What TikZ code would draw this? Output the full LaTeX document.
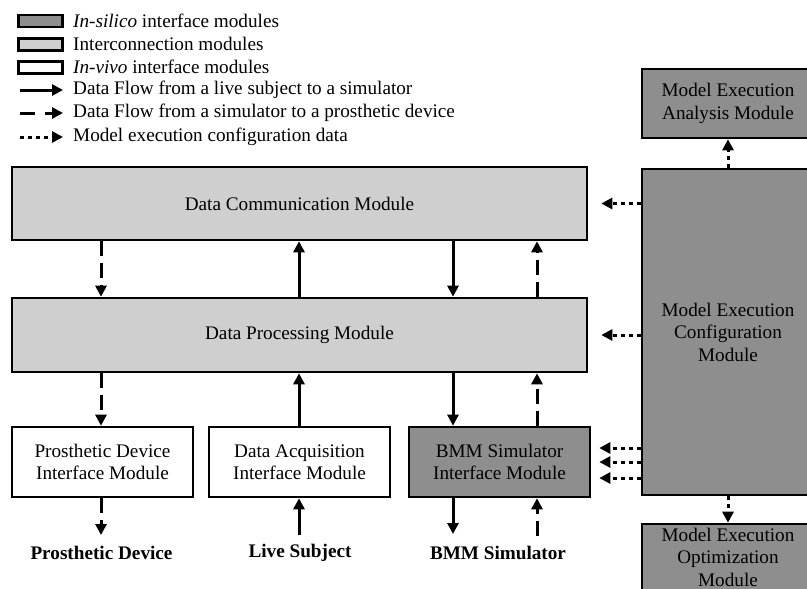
\documentclass[tikz,border=0pt]{standalone}
\usepackage{fontspec}
\setmainfont{Liberation Serif}
\usetikzlibrary{arrows.meta}
\definecolor{silico}{RGB}{142,142,142}
\definecolor{inter}{RGB}{207,207,207}

\begin{document}
\begin{tikzpicture}[x=1pt,y=-1pt,
    font=\fontsize{19.2}{22.5}\selectfont,
    module/.style={draw=black,line width=2.6pt,align=center,inner sep=0pt},
    silicobox/.style={module,fill=silico},
    interbox/.style={module,fill=inter},
    vivobox/.style={module,fill=white},
    swatch/.style={draw=black,line width=2.8pt,minimum width=44pt,minimum height=12pt,inner sep=0pt},
    legtext/.style={anchor=west,inner sep=0pt},
    endlabel/.style={inner sep=0pt,font=\fontsize{19.2}{22.5}\selectfont\bfseries},
    flowin/.style={line width=3pt,-{Triangle[length=11pt,width=11pt]}},
    flowout/.style={flowin,dash pattern=on 15pt off 7pt},
    cfgflow/.style={flowin,dash pattern=on 4pt off 4pt},
    ]
    \useasboundingbox (0,0) rectangle (807,589);
    \node[swatch,fill=silico] (lgsilico) at (40.5,21) {};
    \node[swatch,fill=inter] (lginter) at (40.5,44.5) {};
    \node[swatch,fill=white] (lgvivo) at (40.5,67.5) {};
    \node[legtext] (lgsilicotxt) at (73,21) {\textit{In-silico} interface modules};
    \node[legtext] (lgintertxt) at (73,44) {Interconnection modules};
    \node[legtext] (lgvivotxt) at (73,67) {\textit{In-vivo} interface modules};
    \node[legtext] (lgflowin) at (73,90) {Data Flow from a live subject to a simulator};
    \node[legtext] (lgflowout) at (73,113) {Data Flow from a simulator to a prosthetic device};
    \node[legtext] (lgcfg) at (73,137) {Model execution configuration data};
    \draw[flowin] ([xshift=-53pt]lgflowin.west) -- ([xshift=-10pt]lgflowin.west);
    \draw[flowin,dash pattern=on 15pt off 10pt] ([xshift=-53pt]lgflowout.west) -- ([xshift=-10pt]lgflowout.west);
    \draw[cfgflow] ([xshift=-53pt]lgcfg.west) -- ([xshift=-10pt]lgcfg.west);

    \node[interbox,minimum width=575pt,minimum height=73pt] (dcm) at (299.5,203.5) {Data Communication Module};
    \node[interbox,minimum width=575pt,minimum height=74pt] (dpm) at (299.5,335) {Data Processing Module};
    \node[vivobox,minimum width=181pt,minimum height=70pt] (pdi) at (102.5,462) {Prosthetic Device\\Interface Module};
    \node[vivobox,minimum width=181pt,minimum height=70pt] (daq) at (299.5,462) {Data Acquisition\\Interface Module};
    \node[silicobox,minimum width=181pt,minimum height=70pt] (bmm) at (499.5,462) {BMM Simulator\\Interface Module};
    \node[silicobox,minimum width=172pt,minimum height=69pt] (mea) at (728,103.5) {Model Execution\\Analysis Module};
    \node[silicobox,minimum width=172pt,minimum height=326pt] (mec) at (728,332) {Model Execution\\Configuration\\Module};
    \node[silicobox,minimum width=172pt,minimum height=66pt] (meo) at (728,557) {Model Execution\\Optimization\\Module};

    \node[endlabel] (pdlabel) at (101.5,553) {Prosthetic Device};
    \node[endlabel] (lslabel) at (300,553) {Live Subject};
    \node[endlabel] (bmmlabel) at (498,553) {BMM Simulator};
    \coordinate (pdout) at (101,535);
    \coordinate (lsin) at (299,535);
    \coordinate (bmmout) at (453,534);
    \coordinate (bmmin) at (537,536);

    \draw[flowout] (dcm.south -| pdout) -- (dpm.north -| pdout);
    \draw[flowin] (dpm.north -| lsin) -- (dcm.south -| lsin);
    \draw[flowin] (dcm.south -| bmmout) -- (dpm.north -| bmmout);
    \draw[flowout] (dpm.north -| bmmin) -- (dcm.south -| bmmin);
    \draw[flowout] (dpm.south -| pdout) -- (pdi.north -| pdout);
    \draw[flowin] (daq.north -| lsin) -- (dpm.south -| lsin);
    \draw[flowin] (dpm.south -| bmmout) -- (bmm.north -| bmmout);
    \draw[flowout] (bmm.north -| bmmin) -- (dpm.south -| bmmin);
    \draw[flowout] (pdi.south -| pdout) -- (pdout);
    \draw[flowin] (lsin) -- (daq.south -| lsin);
    \draw[flowin] (bmm.south -| bmmout) -- (bmmout);
    \draw[flowout] (bmmin) -- (bmm.south -| bmmin);

    \draw[cfgflow] (mec.west |- dcm.east) -- ([xshift=13pt]dcm.east);
    \draw[cfgflow] (mec.west |- dpm.east) -- ([xshift=13pt]dpm.east);
    \draw[cfgflow] ([yshift=14pt]mec.west |- bmm.east) -- ([xshift=8pt,yshift=14pt]bmm.east);
    \draw[cfgflow] (mec.west |- bmm.east) -- ([xshift=8pt]bmm.east);
    \draw[cfgflow] ([yshift=-16pt]mec.west |- bmm.east) -- ([xshift=8pt,yshift=-16pt]bmm.east);
    \draw[cfgflow] (mec.north) -- (mea.south);
    \draw[cfgflow] (mec.south) -- (meo.north);
\end{tikzpicture}
\end{document}
